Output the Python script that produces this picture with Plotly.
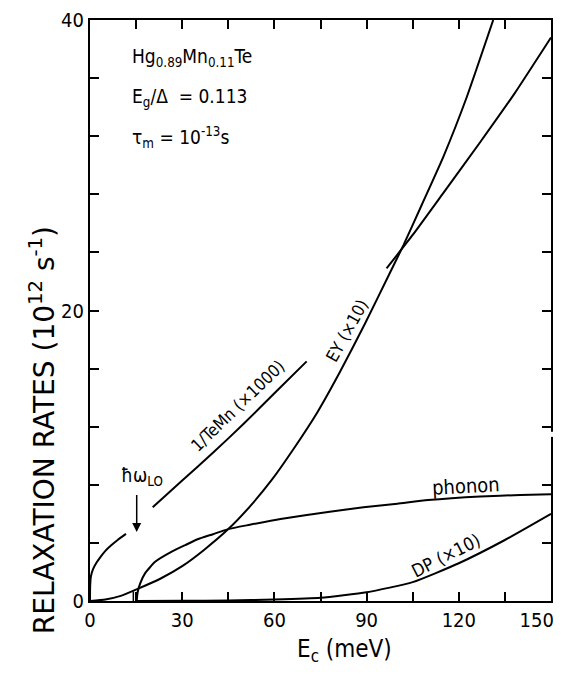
import plotly.graph_objects as go

# ---- data ----
# 1/TeMn (x1000): three visible pieces (gaps where labels cross the curve)
tmn_x = [0, 0.05, 0.3, 1, 2, 3.5, 5, 7, 9, 11.7, None,
         20.4, 30, 40, 50, 60, 70.5, None,
         96.5, 105, 115, 127, 138, 150]
tmn_y = [0, 1.0, 1.7, 2.2, 2.6, 3.05, 3.45, 3.85, 4.2, 4.62, None,
         6.45, 8.3, 10.2, 12.2, 14.3, 16.5, None,
         22.9, 25.2, 28.1, 31.6, 34.9, 38.8]

ey_x = [0, 5, 10, 15.7, 23, 30, 37, 45, 52, 59, 66, 74, 81.4, 89.5, 97.6, 102, 108, 115, 122.6, 131.2]
ey_y = [0, 0.1, 0.35, 0.85, 1.55, 2.4, 3.5, 4.95, 6.5, 8.3, 10.4, 13.0, 15.8, 19.1, 22.6, 24.5, 27.3, 30.6, 34.7, 40.0]

ph_x = [15.2, 15.5, 16.3, 17.9, 21.2, 26.6, 31, 35, 40, 45, 52, 62, 78, 89, 100, 110, 127, 140, 150]
ph_y = [0, 0.6, 1.2, 1.9, 2.7, 3.4, 3.85, 4.25, 4.6, 4.95, 5.25, 5.65, 6.15, 6.45, 6.7, 6.95, 7.2, 7.3, 7.35]

dp_x = [15, 30, 45, 60, 75, 90, 105, 120, 135, 150]
dp_y = [0, 0.01, 0.03, 0.1, 0.22, 0.6, 1.3, 2.6, 4.2, 6.0]

mark_x = [14.1, 14.1]
mark_y = [0, 0.65]

x_ticks = [0, 30, 60, 90, 120, 150]
x_labels = ["0", "30", "60", "90", "120", "150\u00a0\u00a0\u00a0\u00a0\u00a0"]
x_minor = [15, 45, 75, 105, 135]
y_ticks = [0, 20, 40]
y_labels = ["0", "20", "40"]
y_minor = [4, 8, 12, 16, 24, 28, 32, 36]

FONT = "DejaVu Sans Condensed, Liberation Sans Narrow, DejaVu Sans, sans-serif"
WIDE = "DejaVu Sans, sans-serif"
LINE = dict(color="black", width=2, shape="spline", smoothing=0.5)

fig = go.Figure()
for xs, ys in [(tmn_x, tmn_y), (ey_x, ey_y), (ph_x, ph_y), (dp_x, dp_y)]:
    fig.add_trace(go.Scatter(x=xs, y=ys, mode="lines", line=LINE, connectgaps=False, hoverinfo="skip"))
fig.add_trace(go.Scatter(x=mark_x, y=mark_y, mode="lines", line=dict(color="black", width=1.5),
                         hoverinfo="skip"))

ann = []
# curve labels
ann.append(dict(x=48, y=13.4, xref="x", yref="y", text="1/TeMn (×1000)", textangle=-44,
                showarrow=False, font=dict(size=17)))
ann.append(dict(x=83.5, y=18.6, xref="x", yref="y", text="EY (×10)", textangle=-61,
                showarrow=False, font=dict(size=17)))
ann.append(dict(x=122.5, y=7.95, xref="x", yref="y", text="phonon", textangle=-3,
                showarrow=False, font=dict(size=20)))
ann.append(dict(x=115.8, y=3.1, xref="x", yref="y", text="DP (×10)", textangle=-27,
                showarrow=False, font=dict(size=18)))
ann.append(dict(x=17, y=8.6, xref="x", yref="y", text="ħω<sub>LO</sub>",
                showarrow=False, font=dict(size=19)))
ann.append(dict(x=15.2, y=4.75, ax=15.2, ay=7.4, xref="x", yref="y", axref="x", ayref="y",
                text="", showarrow=True, arrowhead=2, arrowsize=1.2, arrowwidth=1.5, arrowcolor="black"))
# parameters
ann.append(dict(x=0.087, y=0.935, xref="paper", yref="paper", xanchor="left", yanchor="middle",
                text="Hg<sub>0.89</sub>Mn<sub>0.11</sub>Te", showarrow=False, font=dict(size=19)))
ann.append(dict(x=0.087, y=0.866, xref="paper", yref="paper", xanchor="left", yanchor="middle",
                text="E<sub>g</sub>/Δ  = 0.113", showarrow=False, font=dict(size=19)))
ann.append(dict(x=0.087, y=0.797, xref="paper", yref="paper", xanchor="left", yanchor="middle",
                text="τ<sub>m</sub> = 10<sup>-13</sup>s", showarrow=False, font=dict(size=19)))
# axis titles
ann.append(dict(x=-0.104, y=0.294, xref="paper", yref="paper", xanchor="center", yanchor="middle",
                textangle=-90, text="RELAXATION RATES (10<sup>12</sup> s<sup>-1</sup>)", showarrow=False,
                font=dict(size=28, family=WIDE)))
ann.append(dict(x=0.553, y=-0.085, xref="paper", yref="paper", xanchor="center", yanchor="middle",
                text="E<sub>c</sub> (meV)", showarrow=False, font=dict(size=24)))

# the page body adds an 8 px margin; the figure is sized so the page does not overflow the window
fig.update_layout(
    width=546, height=659,
    margin=dict(l=82, r=3, t=12, b=66, autoexpand=False),
    paper_bgcolor="white", plot_bgcolor="white",
    showlegend=False,
    font=dict(family=FONT, color="black"),
    annotations=ann,
    shapes=[dict(type="rect", xref="paper", yref="y", x0=0.99, x1=1.006, y0=11.3, y1=11.65,
                 fillcolor="white", line=dict(width=0), layer="above")],
)
axis_common = dict(ticks="inside", ticklen=9, tickwidth=1.5, tickcolor="black", showline=True,
                   linecolor="black", linewidth=2, mirror="ticks", showgrid=False, zeroline=False,
                   tickfont=dict(size=20), automargin=False, ticklabeloverflow="allow")
minor_common = dict(ticks="inside", ticklen=9, tickwidth=1.5, tickcolor="black", showgrid=False)
fig.update_xaxes(range=[0, 150], tickvals=x_ticks, ticktext=x_labels,
                 minor=dict(tickvals=x_minor, **minor_common), **axis_common)
fig.update_yaxes(range=[0, 40], tickvals=y_ticks, ticktext=y_labels,
                 minor=dict(tickvals=y_minor, **minor_common), **axis_common)

fig.write_html("out.html")
